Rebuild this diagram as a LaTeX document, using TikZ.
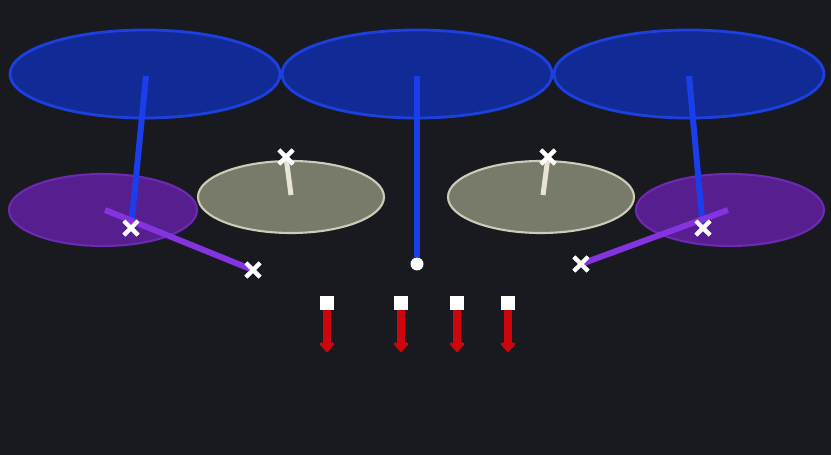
\documentclass[tikz,border=0pt]{standalone}
\usetikzlibrary{arrows.meta,shapes.misc}
\definecolor{bgdark}{RGB}{24,26,32}
\definecolor{rotorfill}{RGB}{18,42,150}
\definecolor{rotoredge}{RGB}{28,64,222}
\definecolor{armblue}{RGB}{26,62,236}
\definecolor{footfill}{RGB}{86,30,142}
\definecolor{footedge}{RGB}{108,42,178}
\definecolor{legviolet}{RGB}{132,52,222}
\definecolor{padfill}{RGB}{120,122,106}
\definecolor{padedge}{RGB}{204,204,184}
\definecolor{padstem}{RGB}{232,228,214}
\definecolor{forcered}{RGB}{204,6,10}
\tikzset{
  rotor/.style={fill=rotorfill,draw=rotoredge,line width=1.6pt},
  foot/.style={fill=footfill,draw=footedge,line width=1.2pt},
  pad/.style={fill=padfill,draw=padedge,line width=1.2pt},
  joint/.style={cross out,draw=white,line width=2.3pt,minimum size=0.2cm,inner sep=0pt},
  weight/.style={fill=white,minimum size=0.28cm,inner sep=0pt},
  force/.style={forcered,line width=0.15cm,-{Triangle[width=0.34cm,length=0.2cm,round]}}
}
\begin{document}
\begin{tikzpicture}[x=0.02cm,y=-0.02cm]
\useasboundingbox (0,0) rectangle (831,455);
\fill[bgdark] (0,0) rectangle (831,455);
% rotor discs
\draw[rotor] (145,74) ellipse[x radius=135,y radius=44];
\draw[rotor] (417,74) ellipse[x radius=135,y radius=44];
\draw[rotor] (689,74) ellipse[x radius=135,y radius=44];
% feet and pads
\draw[foot] (103,210) ellipse[x radius=94,y radius=36];
\draw[foot] (730,210) ellipse[x radius=94,y radius=36];
\draw[pad] (291,197) ellipse[x radius=93,y radius=36];
\draw[pad] (541,197) ellipse[x radius=93,y radius=36];
% joints
\node[joint] (jl) at (131,228) {};
\node[joint] (jr) at (703,228) {};
\node[joint] (el) at (253,270) {};
\node[joint] (er) at (581,264) {};
\node[joint] (pl) at (286,157) {};
\node[joint] (pr) at (548,157) {};
\coordinate (hl) at (146,76);
\coordinate (hm) at (417,76);
\coordinate (hr) at (689,76);
\coordinate (tl) at (105,210);
\coordinate (tr) at (728,210);
\coordinate (ql) at (291,195);
\coordinate (qr) at (543,195);
\node[circle,fill=white,inner sep=0pt,minimum size=0.26cm] (c) at (417,264) {};
% arms
\draw[armblue,line width=0.12cm] (hl) -- (jl.center);
\draw[armblue,line width=0.12cm] (hm) -- (c);
\draw[armblue,line width=0.12cm] (hr) -- (jr.center);
\draw[legviolet,line width=0.12cm] (tl) -- (el.center);
\draw[legviolet,line width=0.12cm] (tr) -- (er.center);
\draw[padstem,line width=0.1cm] (pl.center) -- (ql);
\draw[padstem,line width=0.1cm] (pr.center) -- (qr);
\foreach \n in {jl,jr,el,er,pl,pr} \node[joint] at (\n) {};
% loads
\foreach \x [count=\i] in {327,401,457,508} {
  \node[weight] (w\i) at (\x,303) {};
  \coordinate (f\i) at (\x,352);
  \draw[force] (w\i.south) -- (f\i);
}
\end{tikzpicture}
\end{document}
